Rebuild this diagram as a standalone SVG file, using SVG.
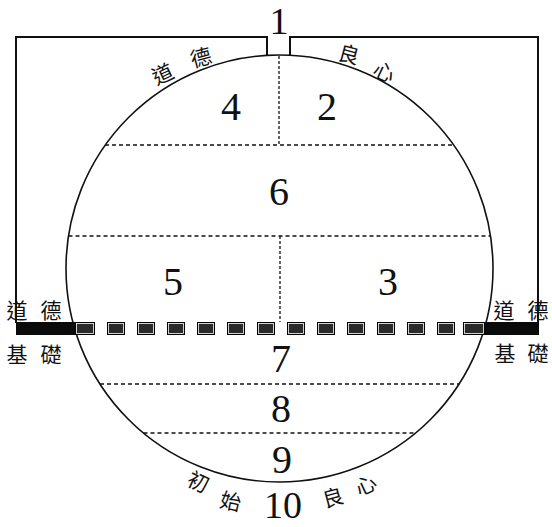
<svg xmlns="http://www.w3.org/2000/svg" xmlns:xlink="http://www.w3.org/1999/xlink" width="552" height="527" viewBox="0 0 552 527">
<style>
.num{font-family:"Liberation Serif","DejaVu Serif",serif;font-size:40px;fill:#111;text-anchor:middle}
.edge{font-size:38px}
.cjk{font-family:"Noto Sans CJK TC","Noto Sans CJK SC",sans-serif;font-size:21px;fill:#111;text-anchor:middle}
.dash{stroke:#111;stroke-width:1.3;stroke-dasharray:4 3;fill:none}
.vdash{stroke:#111;stroke-width:1.3;stroke-dasharray:3 2;fill:none}
.solid{stroke:#111;stroke-width:2;fill:none}
</style>
<defs>
<g id="box">
<rect x="0" y="0" width="18" height="13" fill="#000"/>
<rect x="1.5" y="1.5" width="15" height="10" fill="#2a2a2a" stroke="#fff" stroke-width="0.8"/>
</g>
</defs>
<rect width="552" height="527" fill="#fff"/>
<g id="sphere">
<circle cx="279.5" cy="268.5" r="213.5" fill="none" stroke="#111" stroke-width="1.6"/>
</g>
<g id="connectors">
<path class="solid" d="M16,323 V37 H267 V55 M290,55 V37 H538 V323"/>
<line class="vdash" x1="279" y1="56" x2="279" y2="145"/>
<line class="dash" x1="105" y1="145" x2="454" y2="145"/>
<line class="dash" x1="68.5" y1="236" x2="490.5" y2="236"/>
<line class="vdash" x1="280" y1="236" x2="280" y2="322"/>
<line class="dash" x1="100" y1="384" x2="459" y2="384"/>
<line class="dash" x1="143.5" y1="433" x2="415.5" y2="433"/>
</g>
<g id="foundation">
<rect x="16" y="322" width="59" height="13" fill="#0a0a0a"/>
<rect x="485" y="322" width="54" height="13" fill="#0a0a0a"/>
<rect x="75" y="322" width="20" height="13" fill="#000"/>
<rect x="76.5" y="323.5" width="17" height="10" fill="#2a2a2a" stroke="#fff" stroke-width="0.8"/>
<rect x="463" y="322" width="22" height="13" fill="#000"/>
<rect x="464.5" y="323.5" width="19" height="10" fill="#2a2a2a" stroke="#fff" stroke-width="0.8"/>
<use xlink:href="#box" x="107" y="322"/>
<use xlink:href="#box" x="137" y="322"/>
<use xlink:href="#box" x="167" y="322"/>
<use xlink:href="#box" x="197" y="322"/>
<use xlink:href="#box" x="227" y="322"/>
<use xlink:href="#box" x="257" y="322"/>
<use xlink:href="#box" x="287" y="322"/>
<use xlink:href="#box" x="317" y="322"/>
<use xlink:href="#box" x="347" y="322"/>
<use xlink:href="#box" x="377" y="322"/>
<use xlink:href="#box" x="407" y="322"/>
<use xlink:href="#box" x="437" y="322"/>
</g>
<g id="numbers">
<text class="num edge" x="279" y="34">1</text>
<text class="num" x="327" y="120">2</text>
<text class="num" x="231" y="120">4</text>
<text class="num" x="279" y="205">6</text>
<text class="num" x="173" y="295">5</text>
<text class="num" x="388" y="295">3</text>
<text class="num" x="281" y="372">7</text>
<text class="num" x="281" y="422">8</text>
<text class="num" x="282" y="473">9</text>
<text class="num edge" x="283" y="518">10</text>
</g>
<g id="labels">
<text class="cjk" transform="translate(166,81) rotate(-25)">道</text>
<text class="cjk" transform="translate(203,65) rotate(-15)">德</text>
<text class="cjk" transform="translate(347,62) rotate(15)">良</text>
<text class="cjk" transform="translate(381,79) rotate(25)">心</text>
<text class="cjk" x="17" y="318">道</text>
<text class="cjk" x="51" y="318">德</text>
<text class="cjk" x="17" y="362">基</text>
<text class="cjk" x="51" y="362">礎</text>
<text class="cjk" x="504" y="318">道</text>
<text class="cjk" x="538" y="318">德</text>
<text class="cjk" x="505" y="361">基</text>
<text class="cjk" x="538" y="361">礎</text>
<text class="cjk" transform="translate(195,489) rotate(25)">初</text>
<text class="cjk" transform="translate(229,509) rotate(12)">始</text>
<text class="cjk" transform="translate(335,505) rotate(-15)">良</text>
<text class="cjk" transform="translate(369,492) rotate(-25)">心</text>
</g>
</svg>
